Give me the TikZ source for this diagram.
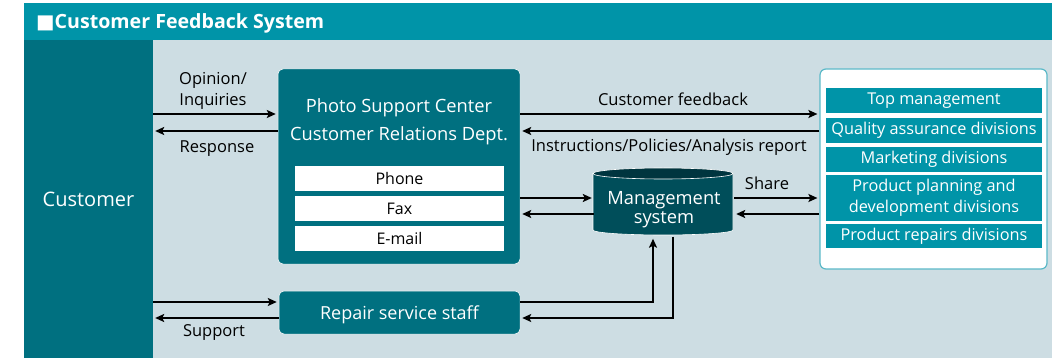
\documentclass[tikz,border=0pt]{standalone}
\usepackage{fontspec}
\setmainfont{Open Sans}
\newfontfamily\symfont{DejaVu Sans}
\usetikzlibrary{arrows.meta,positioning}
\definecolor{headteal}{RGB}{0,148,168}
\definecolor{darkteal}{RGB}{0,112,128}
\definecolor{paleblue}{RGB}{205,221,227}
\definecolor{dbbody}{RGB}{0,78,90}
\definecolor{dbtop}{RGB}{0,53,63}
\definecolor{rimteal}{RGB}{91,185,200}
\tikzset{
  arr/.style={line width=2pt,shorten >=2pt,-{Stealth[length=9pt,width=8pt,inset=2pt]}},
  unitbox/.style={fill=darkteal,draw=white,line width=0.5pt,rounded corners=5pt,inner sep=0pt},
  mediumbox/.style={fill=white,minimum width=209pt,minimum height=25pt,inner sep=0pt,font=\fontsize{16}{19}\selectfont},
  divbox/.style={fill=headteal,text=white,minimum width=216pt,inner sep=0pt,align=center,font=\fontsize{16.3}{20.5}\selectfont},
  oneline/.style={minimum height=24.5pt,text height=12pt,text depth=3pt},
  lbl/.style={inner sep=0pt,align=center,font=\fontsize{16.5}{21}\selectfont},
  wlbl/.style={text=white,inner sep=0pt,align=center,font=\fontsize{18.3}{28}\selectfont}
}
\begin{document}
\begin{tikzpicture}[x=1pt,y=-1pt]
\useasboundingbox (0,0) rectangle (1052,358);
\fill[headteal] (24,3) rectangle (1052,40);
\fill[paleblue] (24,40) rectangle (1052,358);
\node[anchor=base west,text=white,inner sep=0pt,font=\fontsize{19.6}{22}\selectfont\bfseries] (title) at (36,29) {{\symfont ■}Customer Feedback System};
\node[fill=darkteal,text=white,minimum width=129pt,minimum height=318pt,inner sep=0pt,font=\fontsize{20}{24}\selectfont] (cust) at (88.5,199) {Customer};

\node[unitbox,minimum width=242pt,minimum height=195pt] (psc) at (399,166.5) {};
\node[wlbl] (pscname) at (399,122) {Photo Support Center\\Customer Relations Dept.};
\node[mediumbox] (phone) at (399.5,178.5) {Phone};
\node[mediumbox,below=4.5pt of phone] (fax) {Fax};
\node[mediumbox,below=4.5pt of fax] (email) {E-mail};

\node[unitbox,text=white,font=\fontsize{18}{22}\selectfont,minimum width=241pt,minimum height=43pt,text height=13pt,text depth=0pt] (repair) at (399.5,312.5) {Repair service staff};

\fill[dbbody,draw=white,line width=0.6pt] (593,173.5) -- (593,230) arc[start angle=180,end angle=0,x radius=70,y radius=5] -- (733,173.5) -- cycle;
\fill[dbtop,draw=white,line width=0.6pt] (663,173.5) ellipse[x radius=70,y radius=5.5];
\node[text=white,align=center,minimum width=140pt,minimum height=54pt,inner sep=0pt,font=\fontsize{18.3}{19}\selectfont] (mgmt) at (664,209.5) {Management\\system};

\node[fill=white,draw=rimteal,line width=1.2pt,rounded corners=6pt,minimum width=227pt,minimum height=200pt,inner sep=0pt] (divs) at (933.5,169) {};
\node[divbox,oneline] (topmgmt) at (934,100.5) {Top management};
\node[divbox,oneline] (quality) at (934,130.5) {Quality assurance divisions};
\node[divbox,oneline] (marketing) at (934,159.5) {Marketing divisions};
\node[divbox,minimum height=45.5pt] (planning) at (934,198) {Product planning and\\development divisions};
\node[divbox,oneline] (repairs) at (934,236) {Product repairs divisions};

\draw[arr] (cust.east |- 0,114) -- (psc.west |- 0,114);
\draw[arr] (psc.west |- 0,131) -- (cust.east |- 0,131);
\draw[arr] (psc.east |- 0,114) -- (divs.west |- 0,114);
\draw[arr] (divs.west |- 0,131) -- (psc.east |- 0,131);
\draw[arr] (psc.east |- 0,198) -- (mgmt.west |- 0,198);
\draw[arr] (mgmt.west |- 0,214) -- (psc.east |- 0,214);
\draw[arr] (mgmt.east |- 0,198) -- (divs.west |- 0,198);
\draw[arr] (divs.west |- 0,214) -- (mgmt.east |- 0,214);
\draw[arr] (cust.east |- 0,302) -- (repair.west |- 0,302);
\draw[arr] (repair.west |- 0,318) -- (cust.east |- 0,318);
\draw[arr] (repair.east |- 0,302) -| ([xshift=-11pt]mgmt.south);
\draw[arr] ([xshift=9pt]mgmt.south) |- (repair.east |- 0,318);

\node[lbl] (opinion) at (213,90.5) {Opinion/\\Inquiries};
\node[lbl,anchor=base] (response) at (217,153) {Response};
\node[lbl,anchor=base] (feedback) at (673,106) {Customer feedback};
\node[lbl,anchor=base] (instr) at (669,152) {Instructions/Policies/Analysis report};
\node[lbl,anchor=base] (share) at (767,190) {Share};
\node[lbl,anchor=base] (support) at (214,336) {Support};
\end{tikzpicture}
\end{document}
